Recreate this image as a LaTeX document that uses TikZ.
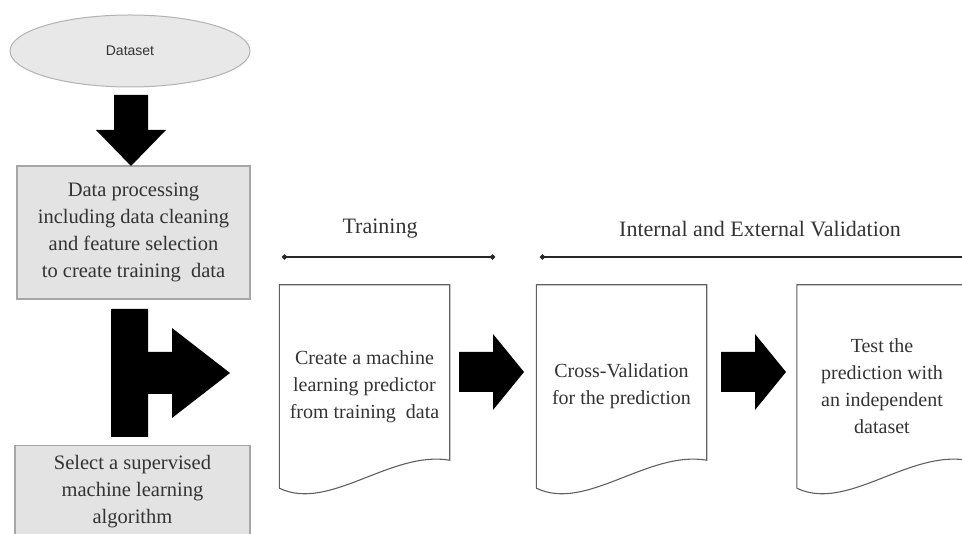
\documentclass[tikz,border=0pt]{standalone}
\usepackage{fontspec}
\setmainfont{Liberation Serif}
\setsansfont{Liberation Sans}
\usetikzlibrary{arrows.meta,calc}
\usetikzlibrary{shapes.geometric}
\tikzset{
  source/.style={draw=gray!60,fill=gray!18,ellipse,line width=1pt,font=\sffamily\fontsize{14}{16}\selectfont,text=black!80},
  graybox/.style={draw=gray!70,fill=gray!22,line width=1.2pt,align=center,text=black!80,font=\fontsize{20.5}{27}\selectfont},
  doc/.style={minimum width=170pt,minimum height=203pt,inner sep=0pt,align=center,text=black!80,font=\fontsize{20}{27}\selectfont},
  docline/.style={draw=gray!75!black,line width=1.1pt},
  phase/.style={text=black!80,font=\fontsize{22}{25}\selectfont},
  span/.style={line width=1.3pt,black!85}
}
\newcommand{\docoutline}[1]{%
  \draw[docline] (#1.south west) -- (#1.north west) -- (#1.north east)
    -- ([yshift=28pt]#1.south east)
    .. controls ([xshift=-59pt,yshift=38pt]#1.south east) and ([xshift=50pt,yshift=-24pt]#1.south west) .. (#1.south west);}
\newcommand{\blockright}[1]{%
  \fill #1 ++(0,-20) -- ++(34,0) -- ++(0,-18) -- ++(31,38) -- ++(-31,38) -- ++(0,-18) -- ++(-34,0) -- cycle;}

\begin{document}
\begin{tikzpicture}[x=1pt,y=-1pt]
  \useasboundingbox (0,0) rectangle (962,534);
  \clip (0,0) rectangle (962,534);
  \node[source,minimum width=240pt,minimum height=72pt] (data) at (130,51) {Dataset};
  \node[graybox,minimum width=233pt,minimum height=133pt] (prep) at (133.5,232.5)
    {Data processing\\including data cleaning\\and feature selection\\to create training\ \ data};
  \node[graybox,minimum width=235pt,minimum height=92pt,anchor=north] (algo) at (132.5,445)
    {Select a supervised\\machine learning\\algorithm};
  \node[doc] (pred) at (364.5,386.5) {Create a machine\\learning predictor\\from training\ \ data};
  \node[doc] (cv) at (621.5,386.5) {Cross-Validation\\for the prediction};
  \node[doc] (test) at (882,386.5) {Test the\\prediction with\\an independent\\dataset};
  \docoutline{pred}
  \docoutline{cv}
  \docoutline{test}
  % block arrows
  \fill (114,95) -- (148,95) -- (148,130) -- (166,130) -- (131,166) -- (96,130) -- (114,130) -- cycle;
  \fill (111,309) -- (148,309) -- (148,352) -- (172,352) -- (172,328) -- (230,373)
    -- (172,418) -- (172,394) -- (148,394) -- (148,437) -- (111,437) -- cycle;
  \blockright{(459,372)}
  \blockright{(721,372)}
  % phases
  \coordinate (t1) at (282,257);
  \coordinate (t2) at (495,257);
  \coordinate (v1) at (540,257);
  \coordinate (v2) at (975,257);
  \draw[span,{Circle[length=5pt]}-{Circle[length=5pt]}] (t1) -- (t2);
  \draw[span,{Circle[length=5pt]}-] (v1) -- (v2);
  \node[phase] (train) at (380,229) {Training};
  \node[phase] (valid) at (760,229) {Internal and External Validation};
\end{tikzpicture}
\end{document}
